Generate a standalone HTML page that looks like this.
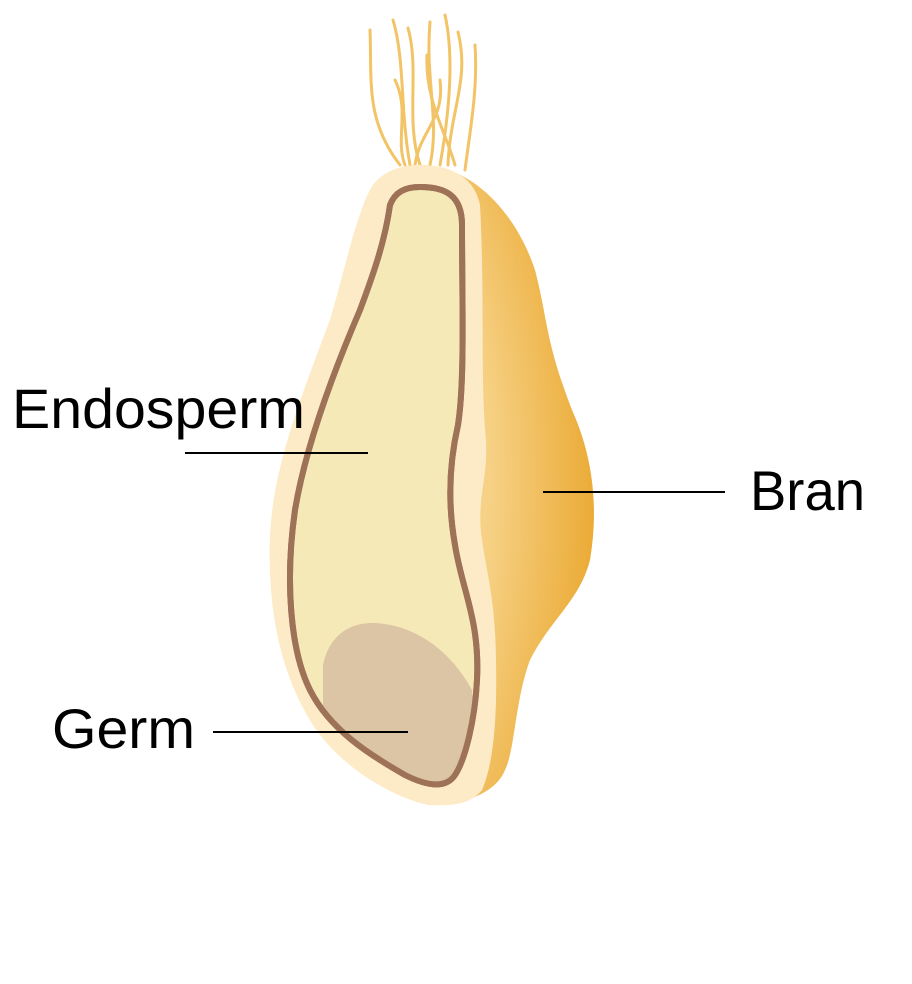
<!DOCTYPE html>
<html><head><style>html,body{margin:0;padding:0;background:#fff}</style></head>
<body>
<svg width="912" height="979" viewBox="0 0 912 979" xmlns="http://www.w3.org/2000/svg">
<defs>
<radialGradient id="bran" cx="0.15" cy="0.5" r="0.9">
<stop offset="0" stop-color="#fde9c4"/>
<stop offset="0.6" stop-color="#f6d083"/>
<stop offset="1" stop-color="#e9a52a"/>
</radialGradient>
</defs>
<g fill="none" stroke="#f2c466" stroke-width="3" stroke-linecap="round">
<path d="M370 30 C372 80,365 120,400 165"/>
<path d="M393 20 C405 60,400 110,410 165"/>
<path d="M408 28 C420 70,405 120,420 165"/>
<path d="M430 22 C425 80,440 120,430 165"/>
<path d="M445 15 C455 60,448 120,440 165"/>
<path d="M458 32 C470 80,450 110,448 165"/>
<path d="M475 45 C478 90,470 130,465 170"/>
<path d="M440 80 C445 120,420 130,415 165"/>
<path d="M427 55 C425 100,445 130,455 165"/>
<path d="M395 80 C410 110,395 140,405 165"/>
</g>
<path d="M420 165 C470 165,515 210,535 270 C548 320,545 340,572 410 C590 450,600 500,590 560 C580 600,550 620,530 660 C515 700,515 750,505 770 C495 795,460 805,430 805 C400 800,340 770,310 720 C280 670,268 610,270 540 C272 470,300 400,330 320 C345 270,355 220,370 190 C380 172,400 165,420 165 Z" fill="url(#bran)"/>
<path d="M420 165 C455 165,475 180,480 205 C485 300,480 380,486 440 C488 480,476 500,482 540 C488 580,495 600,496 660 C497 710,495 760,482 790 C470 805,450 806,430 805 C400 800,340 770,310 720 C280 670,268 610,270 540 C272 470,300 400,330 320 C345 270,355 220,370 190 C380 172,400 165,420 165 Z" fill="#fdebc8"/>
<path d="M420 187 C445 187,462 195,462 225 C462 300,465 380,458 425 C450 460,447 500,455 545 C462 590,480 620,477 680 C475 720,465 760,455 775 C445 790,425 785,405 775 C370 755,330 730,310 690 C290 650,285 580,295 510 C305 450,330 380,360 310 C375 270,385 240,390 205 C395 192,405 187,420 187 Z" fill="#f6e9b8" stroke="#9e7257" stroke-width="6"/>
<path d="M323 665 C328 640,345 622,375 623 C415 625,450 650,472 690 C475 720,465 760,455 773 C445 786,425 783,405 773 C370 754,340 730,323 705 Z" fill="#dcc5a4"/>
<path d="M420 187 C445 187,462 195,462 225 C462 300,465 380,458 425 C450 460,447 500,455 545 C462 590,480 620,477 680 C475 720,465 760,455 775 C445 790,425 785,405 775 C370 755,330 730,310 690 C290 650,285 580,295 510 C305 450,330 380,360 310 C375 270,385 240,390 205 C395 192,405 187,420 187 Z" fill="none" stroke="#9e7257" stroke-width="6"/>
<g stroke="#000" stroke-width="2">
<line x1="185" y1="453" x2="368" y2="453"/>
<line x1="543" y1="492" x2="725" y2="492"/>
<line x1="213" y1="732" x2="408" y2="732"/>
</g>
<g font-family="Liberation Sans, sans-serif" font-size="56" fill="#000">
<text x="12" y="428" textLength="293" lengthAdjust="spacingAndGlyphs">Endosperm</text>
<text x="750" y="510" textLength="115" lengthAdjust="spacingAndGlyphs">Bran</text>
<text x="52" y="748" textLength="143" lengthAdjust="spacingAndGlyphs">Germ</text>
</g>
</svg>
</body></html>
